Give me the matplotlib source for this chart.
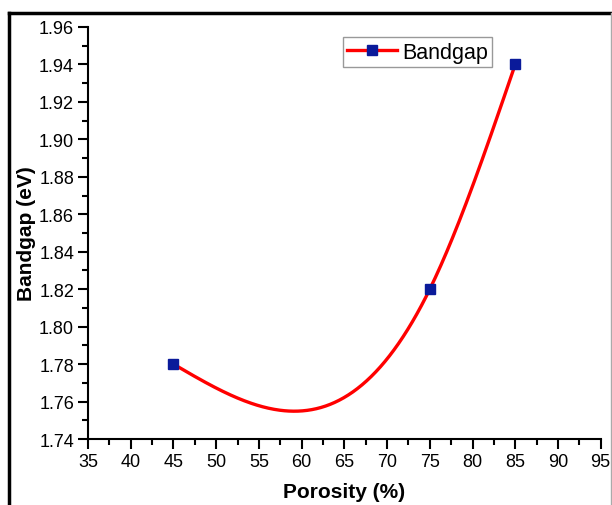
import numpy as np
import matplotlib.pyplot as plt
from matplotlib.lines import Line2D
from matplotlib.ticker import MultipleLocator

plt.rcParams['font.family'] = ['Liberation Sans', 'DejaVu Sans']

# Data
porosity = [45, 75, 85]
bandgap = [1.78, 1.82, 1.94]


def natural_spline(x, y, n=300):
    # natural cubic spline through the points (like Origin's spline connection)
    x = np.asarray(x, float)
    y = np.asarray(y, float)
    k = len(x)
    h = np.diff(x)
    A = np.zeros((k, k))
    r = np.zeros(k)
    A[0, 0] = A[-1, -1] = 1
    for i in range(1, k - 1):
        A[i, i - 1] = h[i - 1]
        A[i, i] = 2 * (h[i - 1] + h[i])
        A[i, i + 1] = h[i]
        r[i] = 6 * ((y[i + 1] - y[i]) / h[i] - (y[i] - y[i - 1]) / h[i - 1])
    M = np.linalg.solve(A, r)
    xs = np.linspace(x[0], x[-1], n)
    idx = np.clip(np.searchsorted(x, xs) - 1, 0, k - 2)
    x0, x1 = x[idx], x[idx + 1]
    hh = h[idx]
    ys = (M[idx] * (x1 - xs) ** 3 / (6 * hh) + M[idx + 1] * (xs - x0) ** 3 / (6 * hh)
          + (y[idx] / hh - M[idx] * hh / 6) * (x1 - xs)
          + (y[idx + 1] / hh - M[idx + 1] * hh / 6) * (xs - x0))
    return xs, ys


fig = plt.figure(figsize=(6.12, 5.06), dpi=100)
ax = fig.add_axes([0.1438, 0.1304, 0.8377, 0.8143])

xs, ys = natural_spline(porosity, bandgap)
ax.plot(xs, ys, color='#ff0000', lw=2.4, zorder=2)
ax.plot(porosity, bandgap, ls='none', marker='s', ms=6.5, color='#0a1a9a',
        mec='#0a1a9a', zorder=3)

ax.set_xlim(35, 95)
ax.set_ylim(1.74, 1.96)
ax.xaxis.set_major_locator(MultipleLocator(5))
ax.xaxis.set_minor_locator(MultipleLocator(2.5))
ax.yaxis.set_major_locator(MultipleLocator(0.02))
ax.yaxis.set_minor_locator(MultipleLocator(0.01))
ax.yaxis.set_major_formatter(lambda v, p: f'{v:.2f}')

for s in ['top', 'right']:
    ax.spines[s].set_visible(False)
for s in ['left', 'bottom']:
    ax.spines[s].set_linewidth(1.5)
ax.tick_params(which='major', direction='out', length=7, width=1.5, labelsize=13, pad=3)
ax.tick_params(which='minor', direction='out', length=4, width=1.5)

ax.set_xlabel('Porosity (%)', fontsize=15, fontweight='bold', labelpad=9)
ax.set_ylabel('Bandgap (eV)', fontsize=15, fontweight='bold', labelpad=2)

handle = Line2D([], [], color='#ff0000', lw=2.4, marker='s', ms=6.5,
                mfc='#0a1a9a', mec='#0a1a9a')
leg = ax.legend([handle], ['Bandgap'], loc='upper left', bbox_to_anchor=(0.497, 0.975),
                fontsize=15.5, fancybox=False, framealpha=1, edgecolor='#999999',
                handlelength=2.3, handletextpad=0.25, borderpad=0.2, borderaxespad=0)
leg.get_frame().set_linewidth(1)

# outer frame of the image
fig.add_artist(Line2D([8.5 / 612, 8.5 / 612], [0, 1 - 14 / 506], color='black', lw=2.5))
fig.add_artist(Line2D([8.5 / 612, 611 / 612], [1 - 14 / 506, 1 - 14 / 506], color='black', lw=2.5))
fig.add_artist(Line2D([610.5 / 612, 610.5 / 612], [0, 1 - 14 / 506], color='#aaaaaa', lw=1))

fig.savefig('out.png', dpi=100)
